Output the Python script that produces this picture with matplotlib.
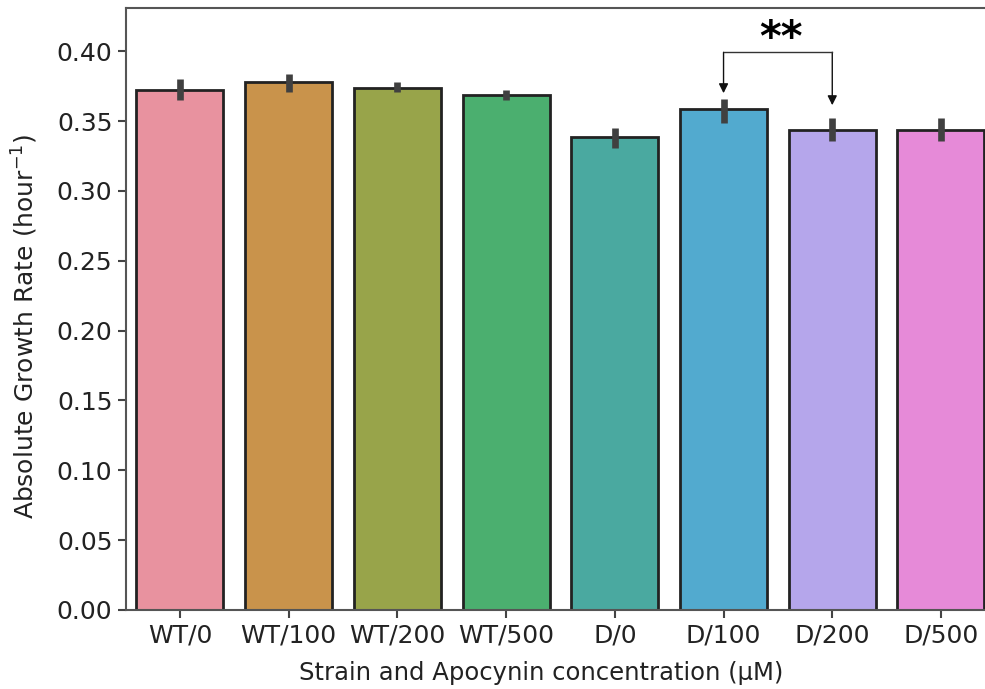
import numpy as np
import matplotlib
matplotlib.use("Agg")
import matplotlib.pyplot as plt

labels = ["WT/0", "WT/100", "WT/200", "WT/500", "D/0", "D/100", "D/200", "D/500"]
rates = [0.372, 0.378, 0.374, 0.3685, 0.3385, 0.3585, 0.344, 0.344]
err_low = [0.365, 0.3707, 0.3707, 0.365, 0.331, 0.3485, 0.336, 0.336]
err_high = [0.380, 0.3835, 0.378, 0.372, 0.345, 0.366, 0.352, 0.352]
colors = ["#E8929F", "#C9934B", "#98A44A", "#4BAF6F", "#4AA9A0", "#52AACF", "#B5A6EB", "#E68AD8"]

# significance pair (D/100 vs D/200)
pair = (5, 6)
bracket_y = 0.3993
arrow_tips = [0.370, 0.3614]
stars = "**"

fig = plt.figure(figsize=(9.85, 6.89), dpi=100)
ax = fig.add_axes([0.1275, 0.1147, 0.883, 0.8737])

x = np.arange(len(labels))
ax.bar(x, rates, width=0.8, color=colors, edgecolor="#222222", linewidth=2.0, zorder=2)
ax.vlines(x, err_low, err_high, color="#404040", linewidth=4.8, zorder=3)

ax.set_xlim(-0.5, len(labels) - 0.5)
ax.set_ylim(0, 0.431)
ax.set_yticks(np.arange(0, 0.41, 0.05))
ax.set_yticklabels(["%.2f" % v for v in np.arange(0, 0.41, 0.05)])
ax.set_xticks(x)
ax.set_xticklabels(labels)
ax.tick_params(labelsize=18, length=6, width=1.5, color="#444444", labelcolor="#222222")
for s in ax.spines.values():
    s.set_linewidth(1.5)
    s.set_color("#555555")

ax.set_ylabel("Absolute Growth Rate (hour$^{-1}$)", fontsize=18, color="#222222")
ax.yaxis.set_label_coords(-0.098, 0.472)
ax.set_xlabel("Strain and Apocynin concentration (\u00b5M)", fontsize=17.5, color="#222222")
ax.xaxis.set_label_coords(0.4776, -0.084)

# bracket with arrows
i, j = pair
ax.plot([i, j], [bracket_y, bracket_y], color="#333333", linewidth=1.0, zorder=4)
for k, tip in zip(pair, arrow_tips):
    ax.annotate("", xy=(k, tip), xytext=(k, bracket_y),
                arrowprops=dict(arrowstyle="-|>", color="#111111", lw=1.0,
                                mutation_scale=14, shrinkA=0, shrinkB=0))
ax.text((i + j) / 2 + 0.03, 0.4085, stars, ha="center", va="center",
        fontsize=30, fontweight="bold", color="black")

fig.savefig("out.png", dpi=100)
